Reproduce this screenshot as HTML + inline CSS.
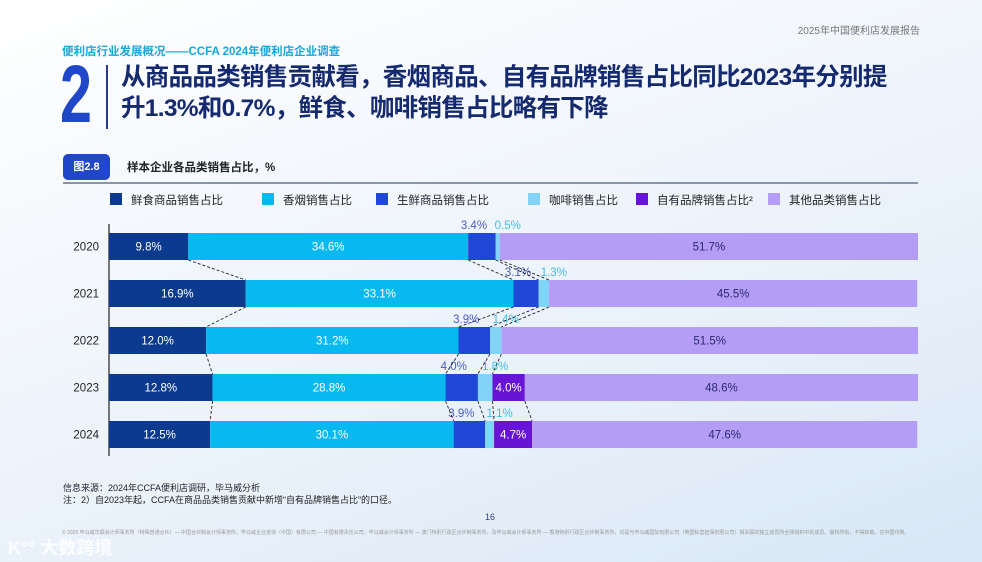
<!DOCTYPE html>
<html><head><meta charset="utf-8">
<style>
body{margin:0;width:982px;height:562px;overflow:hidden;font-family:"Liberation Sans","Noto Sans CJK SC",sans-serif;
background:linear-gradient(160deg,#ffffff 0%,#f1f6fc 40%,#e4eef9 75%,#d7e7f6 100%);position:relative}
.abs{position:absolute}
</style></head><body>
<div class="abs" style="right:62px;top:22px;font-size:10px;color:#777">2025年中国便利店发展报告</div>
<div class="abs" style="left:62px;top:43px;font-size:11.5px;font-weight:bold;color:#1aa6d8">便利店行业发展概况——CCFA 2024年便利店企业调查</div>
<div class="abs" style="left:60px;top:62px;width:40px;height:66px;font-size:82px;line-height:66px;font-weight:bold;color:#2147c9;transform:scaleX(0.7);transform-origin:left">2</div>
<div class="abs" style="left:106px;top:65px;width:2px;height:64px;background:#2a3a8a"></div>
<div class="abs" style="left:121px;top:62px;font-size:24.5px;line-height:31px;font-weight:bold;color:#15296e;letter-spacing:-0.7px">从商品品类销售贡献看，香烟商品、自有品牌销售占比同比2023年分别提<br>升1.3%和0.7%，鲜食、咖啡销售占比略有下降</div>
<div class="abs" style="left:63px;top:154px;width:47px;height:26px;border-radius:5px;background:#2147c9;color:#fff;font-size:11px;font-weight:bold;line-height:26px;text-align:center">图2.8</div>
<div class="abs" style="left:127px;top:159px;font-size:11.5px;font-weight:bold;color:#222">样本企业各品类销售占比，%</div>
<div class="abs" style="left:63px;top:182px;width:855px;height:2px;background:#8a96a8"></div>
<svg class="abs" style="left:0;top:0" width="982" height="562" id="chart"></svg>
<div class="abs" style="left:63px;top:482px;font-size:9px;line-height:12px;color:#222">信息来源：2024年CCFA便利店调研，毕马威分析<br>注：2）自2023年起，CCFA在商品品类销售贡献中新增“自有品牌销售占比”的口径。</div>
<div class="abs" style="left:485px;top:512px;font-size:9px;color:#2a3a8a">16</div>
<div class="abs" style="left:62px;top:530px;width:860px;font-size:5px;line-height:7px;color:#999">© 2025 毕马威华振会计师事务所（特殊普通合伙）— 中国合伙制会计师事务所，毕马威企业咨询（中国）有限公司 — 中国有限责任公司，毕马威会计师事务所 — 澳门特别行政区合伙制事务所，及毕马威会计师事务所 — 香港特别行政区合伙制事务所，均是与毕马威国际有限公司（英国私营担保有限公司）相关联的独立成员所全球组织中的成员。版权所有，不得转载。在中国印刷。</div>
<div class="abs" style="left:8px;top:534px;font-size:18px;color:rgba(255,255,255,0.85);font-weight:bold">K°° 大数跨境</div>
<script>
const years=['2020','2021','2022','2023','2024'];
const seriesNames=['鲜食商品销售占比','香烟销售占比','生鲜商品销售占比','咖啡销售占比','自有品牌销售占比²','其他品类销售占比'];
const fresh=[9.8,16.9,12.0,12.8,12.5];
const tobacco=[34.6,33.1,31.2,28.8,30.1];
const produce=[3.4,3.1,3.9,4.0,3.9];
const coffee=[0.5,1.3,1.4,1.8,1.1];
const privateLabel=[0,0,0,4.0,4.7];
const other=[51.7,45.5,51.5,48.6,47.6];
const colors=['#0b3a8e','#08b9ef','#1f48d6','#82d4f6','#6714d6','#b49df6'];
const series=[fresh,tobacco,produce,coffee,privateLabel,other];
const svg=document.getElementById('chart');const NS='http://www.w3.org/2000/svg';
const x0=109,x1=918;const xs=v=>x0+(x1-x0)*v/100;
const rowTop=233,rowStep=47,barH=27;const ys=i=>rowTop+i*rowStep;
function mk(tag,attrs){const e=document.createElementNS(NS,tag);for(const k in attrs)e.setAttribute(k,attrs[k]);svg.appendChild(e);return e;}
const legX=[110,262,376,528,636,768];
seriesNames.forEach((n,k)=>{
 const r=mk('rect',{x:legX[k],y:193,width:12,height:12,fill:colors[k]});
 
 const t=mk('text',{x:legX[k]+21,y:204,'font-size':11.5,fill:'#222'});t.textContent=n;
 
});
const ax=mk('line',{x1:x0,y1:224,x2:x0,y2:456,stroke:'#222','stroke-width':1.2});

const bounds=[];
years.forEach((yr,i)=>{
 const y=ys(i);let acc=0;const b=[];
 const yl=mk('text',{x:99,y:y+barH/2+4,'font-size':11.5,fill:'#222','text-anchor':'end'});yl.textContent=yr;
 
 series.forEach((s,k)=>{
  const v=s[i];const xa=xs(acc);acc+=v;const xb=xs(acc);b.push([xa,xb]);
  if(v<=0)return;
  const r=mk('rect',{x:xa,y:y,width:Math.max(0,xb-xa),height:barH,fill:colors[k]});
  
  const txt=v.toFixed(1)+'%';const cx=(xa+xb)/2;let t;
  if(k===2||k===3){
   t=mk('text',{x:cx+(k===2?-8:10),y:y-4,'font-size':11.5,fill:k===2?'#4a5cc4':'#45bce8','text-anchor':'middle'});
  }else{
   t=mk('text',{x:cx,y:y+barH/2+4,'font-size':11.5,fill:k===5?'#2a2a70':'#fff','text-anchor':'middle'});
  }
  t.textContent=txt;
 });
 bounds.push(b);
});
for(let i=0;i<years.length-1;i++){
 for(let k=0;k<5;k++){
  if(series[k][i]<=0&&k===4)continue;
  const l=mk('line',{x1:bounds[i][k][1],y1:ys(i)+barH,x2:bounds[i+1][k][1],y2:ys(i+1),stroke:'#222','stroke-width':0.9,'stroke-dasharray':'3,2'});
  
 }
}
</script>
</body></html>
